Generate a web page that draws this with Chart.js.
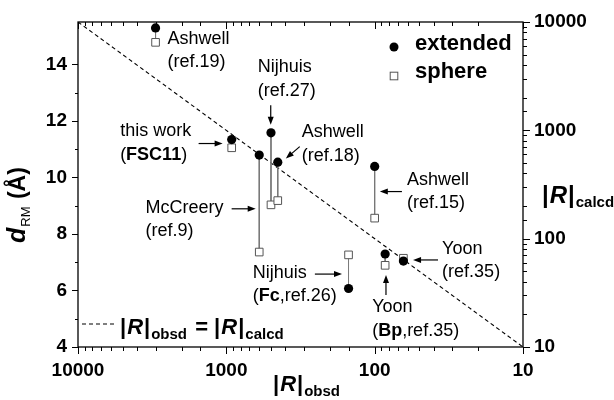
<!DOCTYPE html>
<html>
<head>
<meta charset="utf-8">
<script src="https://cdn.jsdelivr.net/npm/chart.js@4/dist/chart.umd.min.js"></script>
<style>
  html, body { margin: 0; padding: 0; background: #fff; }
</style>
</head>
<body>
<canvas id="chart" width="614" height="400"></canvas>
<script>
// |R|obsd vs d_RM, extended and sphere models
const systems = ['Ashwell ref.19', 'this work', 'McCreery', 'Nijhuis ref.27', 'Ashwell ref.18',
                 'Nijhuis Fc', 'Ashwell ref.15', 'Yoon Bp', 'Yoon ref.35']
const rObsd = [3000, 920, 600, 500, 450, 150, 100, 85, 64]
const dExtended = [15.29, 11.34, 10.79, 11.58, 10.54, 6.07, 10.39, 7.29, 7.04]
const dSphere = [14.78, 11.05, 7.36, 9.03, 9.18, 7.26, 8.56, 6.89, 7.14]
// |R|obsd = |R|calcd line, drawn on the right axis
const identityObsd = [10000, 10]
const identityCalcd = [10000, 10]
const decadeLabels = [10, 100, 1000, 10000]
const dTickLabels = [4, 6, 8, 10, 12, 14]

const FONT = '"Liberation Sans", Arial, sans-serif'

// text notes, anchored in data units (|R|obsd, d_RM); *..* = bold
const notes = [
  { lines: ['Ashwell', '(ref.19)'], at: [2494, 14.90] },
  { lines: ['Nijhuis', '(ref.27)'], at: [615, 13.90], arrow: [[502, 12.55], [502, 11.86]] },
  { lines: ['this work', '(*FSC11*)'], at: [5200, 11.63], arrow: [[1538, 11.20], [1059, 11.20]] },
  { lines: ['Ashwell', '(ref.18)'], at: [310, 11.59], arrow: [[320, 11.09], [397, 10.67]] },
  { lines: ['McCreery', '(ref.9)'], at: [3508, 8.93], arrow: [[921, 8.89], [634, 8.89]] },
  { lines: ['Ashwell', '(ref.15)'], at: [60.5, 9.92], arrow: [[65.5, 9.50], [92.3, 9.50]] },
  { lines: ['Nijhuis', '(*Fc*,ref.26)'], at: [664, 6.62], arrow: [[253, 6.58], [166, 6.58]] },
  { lines: ['Yoon', '(ref.35)'], at: [35.1, 7.47], arrow: [[37.4, 7.08], [55.1, 7.08]] },
  { lines: ['Yoon', '(*Bp*,ref.35)'], at: [104, 5.41], arrow: [[83.9, 5.84], [83.9, 6.55]] }
]

const isDecade = (v) => Math.abs(Math.log10(v) - Math.round(Math.log10(v))) < 1e-9

// gaps (y: null) split the connector dataset into separate segments
const connectors = []
rObsd.forEach((r, i) => {
  connectors.push({ x: r, y: dExtended[i] }, { x: r, y: dSphere[i] }, { x: r, y: null })
})

function drawRich(ctx, x, y, segs) {
  segs.forEach((s) => {
    ctx.font = s.font
    ctx.fillText(s.t, x, y + (s.dy || 0))
    x += ctx.measureText(s.t).width + (s.gap || 0)
  })
  return x
}

function richWidth(ctx, segs) {
  let w = 0
  segs.forEach((s) => { ctx.font = s.font; w += ctx.measureText(s.t).width + (s.gap || 0) })
  return w
}

function noteSegs(line) {
  return line.split('*').map((t, i) => ({ t, font: (i % 2 ? 'bold ' : '') + '18px ' + FONT })).filter((s) => s.t)
}

function arrow(ctx, x1, y1, x2, y2) {
  const ang = Math.atan2(y2 - y1, x2 - x1), L = 8, W = 3
  const c = Math.cos(ang), s = Math.sin(ang)
  ctx.beginPath(); ctx.moveTo(x1, y1); ctx.lineTo(x2 - L * 0.7 * c, y2 - L * 0.7 * s); ctx.stroke()
  ctx.beginPath()
  ctx.moveTo(x2, y2)
  ctx.lineTo(x2 - L * c + W * s, y2 - L * s - W * c)
  ctx.lineTo(x2 - L * c - W * s, y2 - L * s + W * c)
  ctx.closePath(); ctx.fill()
}

function rObsdCalcd(sub) {
  return [
    { t: '|', font: 'bold 22px ' + FONT, gap: 1 },
    { t: 'R', font: 'italic bold 22px ' + FONT, gap: 1 },
    { t: '|', font: 'bold 22px ' + FONT, gap: 1 },
    { t: sub, font: 'bold 15px ' + FONT, dy: 5 }
  ]
}

const frameTicks = {
  id: 'frameTicks',
  afterDatasetsDraw(chart) {
    const { ctx, chartArea: a } = chart
    const { x, y, y2 } = chart.scales
    ctx.save()
    ctx.strokeStyle = '#000'
    ctx.lineWidth = 1
    const seg = (x1, y1, x2, y2_) => { ctx.beginPath(); ctx.moveTo(x1, y1); ctx.lineTo(x2, y2_); ctx.stroke() }
    x.ticks.forEach((t) => {
      const p = Math.round(x.getPixelForValue(t.value)) + 0.5
      const len = isDecade(t.value) ? 7 : 4
      seg(p, a.bottom, p, a.bottom + len)
      seg(p, a.top, p, a.top + len)
    })
    y.ticks.forEach((t) => {
      if (!Number.isInteger(t.value)) return
      const p = Math.round(y.getPixelForValue(t.value)) + 0.5
      seg(a.left, p, a.left - (t.value % 2 === 0 ? 6 : 3), p)
    })
    y2.ticks.forEach((t) => {
      const p = Math.round(y2.getPixelForValue(t.value)) + 0.5
      seg(a.right, p, a.right + (isDecade(t.value) ? 7 : 4), p)
    })
    ctx.lineWidth = 1.3
    ctx.strokeRect(a.left, a.top, a.right - a.left, a.bottom - a.top)
    ctx.restore()
  }
}

const notesAndTitles = {
  id: 'notesAndTitles',
  afterDraw(chart) {
    const { ctx, chartArea: a } = chart
    const { x, y } = chart.scales
    ctx.save()
    ctx.fillStyle = '#000'
    ctx.strokeStyle = '#000'
    ctx.lineWidth = 1.2

    // annotations
    ctx.textAlign = 'left'
    ctx.textBaseline = 'middle'
    notes.forEach((n) => {
      const px = x.getPixelForValue(n.at[0]), py = y.getPixelForValue(n.at[1])
      n.lines.forEach((line, i) => drawRich(ctx, px, py + i * 23.5, noteSegs(line)))
      if (n.arrow) {
        const [p, q] = n.arrow
        arrow(ctx, x.getPixelForValue(p[0]), y.getPixelForValue(p[1]), x.getPixelForValue(q[0]), y.getPixelForValue(q[1]))
      }
    })

    // legend, top right
    const lx = a.right - 129
    ctx.beginPath(); ctx.arc(lx, a.top + 25, 4.5, 0, Math.PI * 2); ctx.fill()
    ctx.fillStyle = '#fff'; ctx.strokeStyle = '#555'; ctx.lineWidth = 1
    ctx.fillRect(lx - 3.8, a.top + 50.2, 7.6, 7.6); ctx.strokeRect(lx - 3.8, a.top + 50.2, 7.6, 7.6)
    ctx.fillStyle = '#000'
    ctx.font = 'bold 22px ' + FONT
    ctx.fillText('extended', a.right - 108, a.top + 22)
    ctx.fillText('sphere', a.right - 108, a.top + 50)

    // legend, bottom left: dashed identity line
    ctx.strokeStyle = '#000'; ctx.lineWidth = 1.1
    ctx.setLineDash([4, 3])
    ctx.beginPath(); ctx.moveTo(a.left + 4, a.bottom - 23); ctx.lineTo(a.left + 38, a.bottom - 23); ctx.stroke()
    ctx.setLineDash([])
    ctx.textBaseline = 'alphabetic'
    let ex = drawRich(ctx, a.left + 42, a.bottom - 13, rObsdCalcd('obsd'))
    ex = drawRich(ctx, ex + 2, a.bottom - 13, [{ t: ' = ', font: 'bold 22px ' + FONT }])
    drawRich(ctx, ex, a.bottom - 13, rObsdCalcd('calcd'))

    // bottom axis title
    const bt = rObsdCalcd('obsd')
    const bw = richWidth(ctx, bt)
    drawRich(ctx, (a.left + a.right) / 2 + 6 - bw / 2, 391, bt)

    // right axis title
    drawRich(ctx, a.right + 19, 203, [
      { t: '|', font: 'bold 24px ' + FONT, gap: 1 },
      { t: 'R', font: 'italic bold 24px ' + FONT, gap: 1 },
      { t: '|', font: 'bold 24px ' + FONT, gap: 1 },
      { t: 'calcd', font: 'bold 15px ' + FONT, dy: 4 }
    ])

    // left axis title, rotated
    ctx.translate(25, 243)
    ctx.rotate(-Math.PI / 2)
    drawRich(ctx, 0, 0, [
      { t: 'd', font: 'italic bold 25px ' + FONT, gap: 1 },
      { t: 'RM', font: '13px ' + FONT, dy: 5, gap: 1 },
      { t: ' (Å)', font: 'bold 23px ' + FONT }
    ])
    ctx.restore()
  }
}

const ctx = document.getElementById('chart').getContext('2d')
new Chart(ctx, {
  type: 'scatter',
  data: {
    datasets: [
      {
        label: 'extended',
        data: rObsd.map((r, i) => ({ x: r, y: dExtended[i] })),
        pointStyle: 'circle', pointRadius: 4.6, pointHoverRadius: 4.6,
        backgroundColor: '#000', borderColor: '#000', borderWidth: 0
      },
      {
        label: 'sphere',
        data: rObsd.map((r, i) => ({ x: r, y: dSphere[i] })),
        pointStyle: 'rect', pointRadius: 5.4, pointHoverRadius: 5.4,
        backgroundColor: '#fff', borderColor: '#555', borderWidth: 1
      },
      {
        label: 'link',
        data: connectors,
        showLine: true, spanGaps: false, pointRadius: 0,
        borderColor: '#777', borderWidth: 1
      },
      {
        label: 'identity',
        yAxisID: 'y2',
        data: identityObsd.map((r, i) => ({ x: r, y: identityCalcd[i] })),
        showLine: true, pointRadius: 0,
        borderColor: '#000', borderWidth: 1.1, borderDash: [4, 3]
      }
    ]
  },
  options: {
    responsive: false,
    animation: false,
    layout: { padding: { top: 22, left: 0, right: 0, bottom: 0 } },
    plugins: { legend: { display: false }, tooltip: { enabled: false } },
    scales: {
      x: {
        type: 'logarithmic', reverse: true, min: 10, max: 10000, position: 'bottom',
        afterFit: (s) => { s.height = 53 },
        border: { display: false },
        grid: { drawOnChartArea: false, color: 'rgba(0,0,0,0)', tickLength: 7 },
        ticks: {
          autoSkip: false, maxRotation: 0, padding: 5, color: '#000',
          font: { family: FONT, size: 19, weight: 'bold' },
          callback: (v) => decadeLabels.includes(v) ? String(v) : ''
        }
      },
      y: {
        type: 'linear', min: 4, max: 15.5, position: 'left',
        afterFit: (s) => { s.width = 78 },
        border: { display: false },
        grid: { drawOnChartArea: false, color: 'rgba(0,0,0,0)', tickLength: 6 },
        ticks: {
          stepSize: 1, autoSkip: false, padding: 5, color: '#000',
          font: { family: FONT, size: 19, weight: 'bold' },
          callback: (v) => dTickLabels.includes(v) ? String(v) : ''
        }
      },
      y2: {
        type: 'logarithmic', min: 10, max: 10000, position: 'right',
        afterFit: (s) => { s.width = 91 },
        border: { display: false },
        grid: { drawOnChartArea: false, color: 'rgba(0,0,0,0)', tickLength: 7 },
        ticks: {
          autoSkip: false, padding: 4, color: '#000',
          font: { family: FONT, size: 19, weight: 'bold' },
          callback: (v) => decadeLabels.includes(v) ? String(v) : ''
        }
      }
    }
  },
  plugins: [frameTicks, notesAndTitles]
})
</script>
</body>
</html>
